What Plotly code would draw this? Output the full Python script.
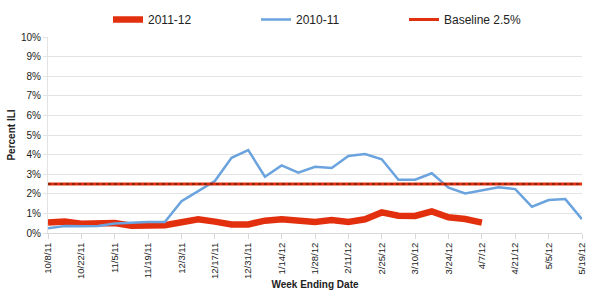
import plotly.graph_objects as go

weeks = ["10/8/11", "10/15/11", "10/22/11", "10/29/11", "11/5/11", "11/12/11", "11/19/11",
         "11/26/11", "12/3/11", "12/10/11", "12/17/11", "12/24/11", "12/31/11", "1/7/12",
         "1/14/12", "1/21/12", "1/28/12", "2/4/12", "2/11/12", "2/18/12", "2/25/12", "3/3/12",
         "3/10/12", "3/17/12", "3/24/12", "3/31/12", "4/7/12", "4/14/12", "4/21/12", "4/28/12",
         "5/5/12", "5/12/12", "5/19/12"]

ili_2011_12 = [0.53, 0.58, 0.47, 0.47, 0.51, 0.37, 0.42, 0.40, 0.55, 0.70, 0.58, 0.44, 0.44,
               0.63, 0.70, 0.64, 0.56, 0.66, 0.56, 0.70, 1.05, 0.88, 0.87, 1.10, 0.80, 0.71, 0.53]

ili_2010_11 = [0.24, 0.36, 0.35, 0.36, 0.49, 0.53, 0.56, 0.56, 1.62, 2.14, 2.65, 3.84, 4.23,
               2.87, 3.45, 3.08, 3.38, 3.32, 3.93, 4.03, 3.76, 2.72, 2.72, 3.05, 2.31, 2.02,
               2.19, 2.33, 2.24, 1.34, 1.68, 1.73, 0.70]

baseline = [2.5] * len(weeks)

tick_labels = weeks[::2]
y_ticks = [0, 1, 2, 3, 4, 5, 6, 7, 8, 9, 10]

FONT = "Liberation Sans, Arial, sans-serif"

fig = go.Figure()
fig.add_trace(go.Scatter(x=weeks[:len(ili_2011_12)], y=ili_2011_12, mode="lines",
                         name="2011-12", line=dict(color="#E2300E", width=6.5)))
fig.add_trace(go.Scatter(x=weeks, y=ili_2010_11, mode="lines", name="2010-11",
                         line=dict(color="#6AA3DD", width=2.5)))
fig.add_trace(go.Scatter(x=weeks, y=baseline, mode="lines", name="Baseline 2.5%",
                         line=dict(color="#E2300E", width=3)))
fig.add_trace(go.Scatter(x=weeks, y=baseline, mode="lines", showlegend=False,
                         hoverinfo="skip", line=dict(color="#3a1a10", width=1, dash="dot")))

fig.update_layout(
    width=600, height=300,
    margin=dict(l=48, r=18, t=37, b=67, autoexpand=False),
    paper_bgcolor="white", plot_bgcolor="white",
    font=dict(family=FONT, size=10, color="#222"),
    legend=dict(orientation="h", xref="container", yref="container",
                x=0.18, xanchor="left", y=0.935, yanchor="middle",
                font=dict(size=12, color="#222"),
                entrywidthmode="pixels", entrywidth=103,
                bgcolor="rgba(0,0,0,0)"),
    xaxis=dict(type="category", categoryorder="array", categoryarray=weeks,
               range=[0, len(weeks) - 1],
               tickmode="array", tickvals=tick_labels, ticktext=tick_labels,
               tickangle=-90, ticks="outside", ticklen=5, tickcolor="#d9d9d9",
               showgrid=False, showline=True, linecolor="#d9d9d9", linewidth=1,
               tickfont=dict(size=9.5, color="#222"),
               title=dict(text="<b>Week Ending Date</b>", font=dict(size=10, color="#222"), standoff=2)),
    yaxis=dict(range=[0, 10], tickmode="array", tickvals=y_ticks,
               ticktext=[f"{v}%" for v in y_ticks],
               showgrid=True, gridcolor="#e3e3e3", gridwidth=1,
               zeroline=False, showline=True, linecolor="#e3e3e3",
               ticks="outside", ticklen=4, tickcolor="#e3e3e3",
               tickfont=dict(size=10, color="#222"),
               title=dict(text="<b>Percent ILI</b>", font=dict(size=10, color="#222"), standoff=3)),
)

fig.write_html("out.html")
